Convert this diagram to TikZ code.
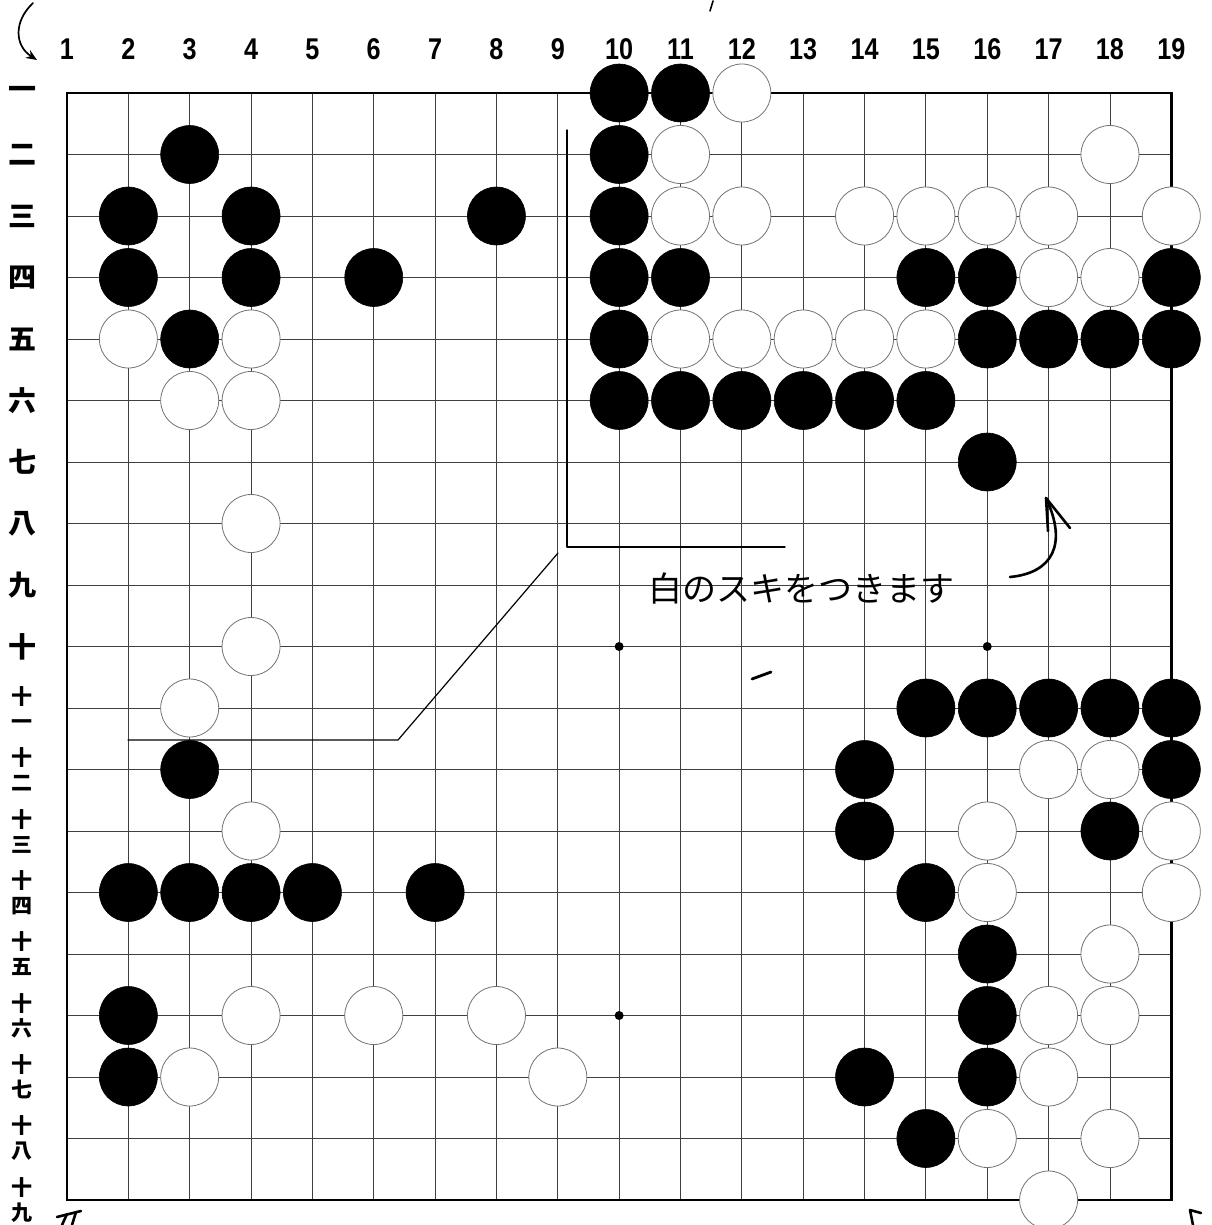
\documentclass[tikz,border=0pt]{standalone}
\usepackage{fontspec}
\setmainfont{Liberation Sans}
\newfontfamily\jp{Noto Sans CJK JP}
\usetikzlibrary{arrows.meta}
\begin{document}
\begin{tikzpicture}[x=1pt,y=-1pt,
  gridline/.style={line width=0.9pt, black!75},
  border/.style={line width=2.4pt, black},
  bstone/.style={circle, fill=black, draw=black, line width=0.6pt, minimum size=58pt, inner sep=0pt},
  wstone/.style={circle, fill=white, draw=black!55, line width=0.8pt, minimum size=58pt, inner sep=0pt},
  starpt/.style={circle, fill=black, minimum size=9pt, inner sep=0pt},
  collabel/.style={font=\fontsize{30}{30}\selectfont\bfseries, inner sep=0pt},
  rowlabel/.style={font=\jp\fontsize{28}{28}\selectfont\bfseries, inner sep=0pt},
  rowlabeltwo/.style={font=\jp\fontsize{21}{25}\selectfont\bfseries, inner sep=0pt, align=center},
  handline/.style={line width=1.4pt, black, line cap=round, line join=round},
  handtext/.style={font=\jp\fontsize{34}{34}\selectfont, inner sep=0pt},
]
\useasboundingbox[fill=white] (0,0) rectangle (1211,1225);

\begin{scope}[shift={(5.65,31.5)}, x=61.35pt, y=-61.5pt]
  % grid
  \foreach \i in {2,...,18} {
    \draw[gridline] (\i,1) -- (\i,19);
    \draw[gridline] (1,\i) -- (19,\i);
  }
  \draw[border] (1,1) rectangle (19,19);
  % star points
  \node[starpt] (s1010) at (10,10) {};
  \node[starpt] (s1610) at (16,10) {};
  \node[starpt] (s1016) at (10,16) {};
  % column labels
  \foreach \c in {1,...,19}
    \node[collabel] (col\c) at (\c,0.285) {\scalebox{0.84}[1]{\c}};
  % row labels
  \foreach \r/\t in {1/一,2/二,3/三,4/四,5/五,6/六,7/七,8/八,9/九,10/十}
    \node[rowlabel] (row\r) at (0.27,\r) {\t};
  \foreach \r/\t in {11/一,12/二,13/三,14/四,15/五,16/六,17/七,18/八,19/九}
    \node[rowlabeltwo] (row\r) at (0.27,\r) {十\\\t};
  % black stones
  \foreach \c/\r in {10/1,11/1,
      3/2,10/2,
      2/3,4/3,8/3,10/3,
      2/4,4/4,6/4,10/4,11/4,15/4,16/4,19/4,
      3/5,10/5,16/5,17/5,18/5,19/5,
      10/6,11/6,12/6,13/6,14/6,15/6,
      16/7,
      15/11,16/11,17/11,18/11,19/11,
      3/12,14/12,19/12,
      14/13,18/13,
      2/14,3/14,4/14,5/14,7/14,15/14,
      16/15,
      2/16,16/16,
      2/17,14/17,16/17,
      15/18}
    \node[bstone] (b-\c-\r) at (\c,\r) {};
  % white stones
  \foreach \c/\r in {12/1,
      11/2,18/2,
      11/3,12/3,14/3,15/3,16/3,17/3,19/3,
      17/4,18/4,
      2/5,4/5,11/5,12/5,13/5,14/5,15/5,
      3/6,4/6,
      4/8,
      4/10,
      3/11,
      17/12,18/12,
      4/13,16/13,19/13,
      16/14,19/14,
      18/15,
      4/16,6/16,8/16,17/16,18/16,
      3/17,9/17,17/17,
      16/18,18/18,
      17/19}
    \node[wstone] (w-\c-\r) at (\c,\r) {};
\end{scope}

% callout frame and pointer
\coordinate (ctop) at (567,130);
\coordinate (ccorner) at (567,547);
\coordinate (cend) at (785,547);
\draw[handline] (ctop) -- (ccorner) -- (cend);
\coordinate (p1) at (558,553);
\coordinate (p2) at (398,740);
\coordinate (p3) at (128,740);
\draw[handline, line width=1.2pt] (p1) -- (p2) -- (p3);

% handwritten note
\node[handtext] (note) at (801,589) {白のスキをつきます};

% curved arrow on the right
\coordinate (ra0) at (1010,577);
\coordinate (ratip) at (1046,498);
\coordinate (rab1) at (1048,531);
\coordinate (rab2) at (1070,528);
\draw[handline, line width=2.6pt] (ra0) .. controls (1052,573) and (1068,545) .. (ratip);
\draw[handline, line width=2.6pt] (rab1) -- (ratip) -- (rab2);

% small dash
\coordinate (d1) at (752,679);
\coordinate (d2) at (771,672);
\draw[handline, line width=2.8pt] (d1) -- (d2);

% top-left arrow
\coordinate (ta0) at (33,3);
\coordinate (ta1) at (37,60);
\draw[handline, line width=1.7pt, -{Stealth[length=11pt,width=9pt]}] (ta0) .. controls (13,22) and (15,46) .. (ta1);

% top tick
\coordinate (tt0) at (713,1);
\coordinate (tt1) at (710,11);
\draw[handline, line width=1.6pt] (tt0) -- (tt1);

% bottom-left mark
\coordinate (bl0) at (57,1217);
\coordinate (bl1) at (81,1211);
\coordinate (bl2) at (67,1214);
\coordinate (bl3) at (62,1225);
\coordinate (bl4) at (76,1212);
\coordinate (bl5) at (72,1225);
\draw[handline, line width=2.6pt] (bl0) -- (bl1);
\draw[handline, line width=2.6pt] (bl2) -- (bl3);
\draw[handline, line width=2.6pt] (bl4) -- (bl5);

% bottom-right mark
\coordinate (br0) at (1201,1213);
\coordinate (br1) at (1190,1210);
\coordinate (br2) at (1193,1225);
\draw[handline, line width=2.6pt] (br0) -- (br1) -- (br2);
\end{tikzpicture}
\end{document}
